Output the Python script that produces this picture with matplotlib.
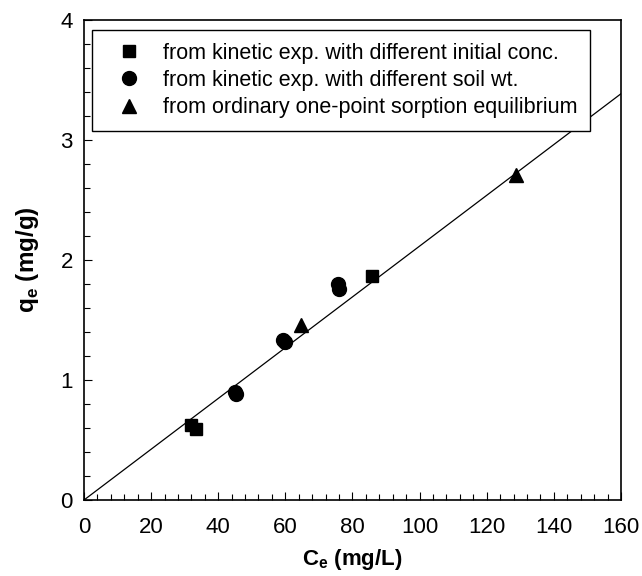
import numpy as np
import matplotlib.pyplot as plt
from matplotlib.ticker import MultipleLocator

plt.rcParams['font.family'] = ['Liberation Sans', 'DejaVu Sans']

# from kinetic exp. with different initial conc.
sq_x = [32.0, 33.5, 85.8]
sq_y = [0.625, 0.595, 1.87]
# from kinetic exp. with different soil wt.
ci_x = [45.0, 45.3, 59.4, 59.8, 75.6, 75.9]
ci_y = [0.90, 0.88, 1.335, 1.32, 1.80, 1.76]
# from ordinary one-point sorption equilibrium
tr_x = [64.7, 128.8]
tr_y = [1.46, 2.71]

slope = 0.02116
line_x = [0, 160]

fig = plt.figure(figsize=(6.42, 5.76), dpi=100)
ax = fig.add_axes([0.1308, 0.1319, 0.8364, 0.8333])

ax.plot(line_x, [slope * v for v in line_x], color='black', lw=0.9, zorder=2)
ax.plot(sq_x, sq_y, 's', color='black', ms=9, ls='none', zorder=3,
        label='from kinetic exp. with different initial conc.')
ax.plot(ci_x, ci_y, 'o', color='black', ms=10, ls='none', zorder=3,
        label='from kinetic exp. with different soil wt.')
ax.plot(tr_x, tr_y, '^', color='black', ms=10, ls='none', zorder=3,
        label='from ordinary one-point sorption equilibrium')

ax.set_xlim(0, 160)
ax.set_ylim(0, 4)
ax.xaxis.set_major_locator(MultipleLocator(20))
ax.xaxis.set_minor_locator(MultipleLocator(4))
ax.yaxis.set_major_locator(MultipleLocator(1))
ax.yaxis.set_minor_locator(MultipleLocator(0.2))
ax.tick_params(which='both', direction='in', top=False, right=False,
               labelsize=16, width=0.8)
ax.tick_params(axis='x', which='both', pad=12)
ax.tick_params(axis='y', which='both', pad=8)
ax.tick_params(which='major', length=6)
ax.tick_params(which='minor', length=4)
for s in ax.spines.values():
    s.set_linewidth(1.2)

ax.set_xlabel(r'C$_\mathregular{e}$ (mg/L)', fontsize=16, fontweight='bold', labelpad=7)
ax.set_ylabel(r'q$_\mathregular{e}$ (mg/g)', fontsize=17.5, fontweight='bold', labelpad=14)

leg = ax.legend(loc='upper left', bbox_to_anchor=(0.0145, 0.98), fontsize=15.5,
                frameon=True, fancybox=False, edgecolor='black', framealpha=1,
                handlelength=2.3, handletextpad=0.4, borderpad=0.6,
                labelspacing=0.3, borderaxespad=0)
leg.get_frame().set_linewidth(1.0)

fig.savefig('out.png', dpi=100)
